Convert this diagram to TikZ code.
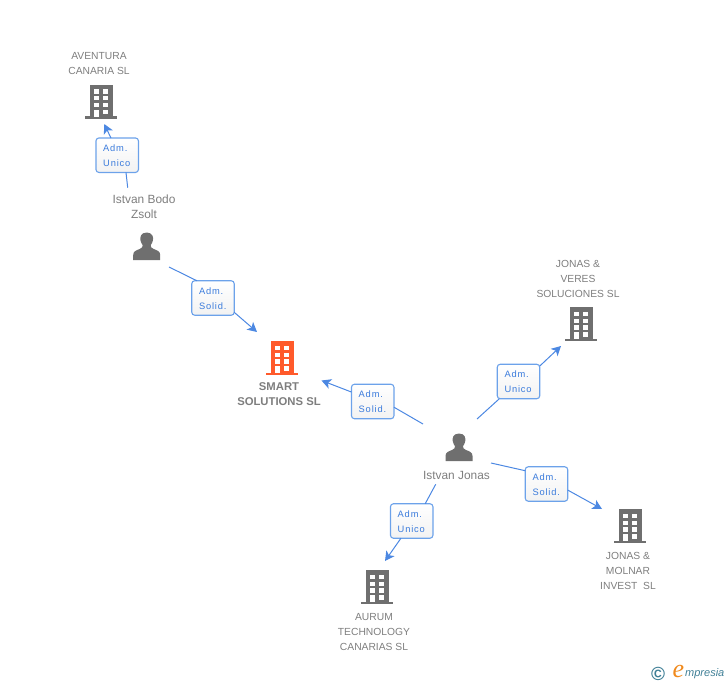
\documentclass[tikz,border=0pt]{standalone}
\usepackage{fontspec}
\setmainfont{Liberation Sans}
\newfontfamily\boxfont[LetterSpace=9]{Liberation Sans}
\newfontfamily\logofont{Liberation Serif}
\usetikzlibrary{arrows.meta,shadows}
\definecolor{icongrey}{HTML}{6F6F6F}
\definecolor{txtgrey}{HTML}{7E7E7E}
\definecolor{hiorange}{HTML}{FF5A2B}
\definecolor{linkblue}{HTML}{4C88E2}
\definecolor{boxedge}{HTML}{6CA2EA}
\definecolor{boxtext}{HTML}{3A7BDC}
\definecolor{logoteal}{HTML}{3F7F96}
\definecolor{logoorange}{HTML}{F08A1D}
\newcommand{\toplift}{\rule{0pt}{8pt}}
\tikzset{
  x=1pt,y=-1pt,
  caption/.style={text=txtgrey,font=\fontsize{10.3}{15}\selectfont,align=center,inner sep=0pt,outer sep=0pt},
  personcap/.style={text=txtgrey,font=\fontsize{11.9}{15}\selectfont,align=center,inner sep=0pt,outer sep=0pt},
  maincap/.style={text=txtgrey,font=\fontsize{11.3}{15}\selectfont\bfseries,align=center,inner sep=0pt,outer sep=0pt},
  rolebox/.style={draw=boxedge,line width=1.1pt,rounded corners=3pt,top color=white,bottom color=white!95!black,
    minimum width=42.5pt,minimum height=34.5pt,inner sep=0pt,outer sep=0pt,text=boxtext,text width=28pt,align=left,
    font=\boxfont\fontsize{9.3}{15}\selectfont},
  link/.style={draw=linkblue,line width=1pt},
  tipped/.style={link,-{Stealth[length=9.5pt,width=10pt,inset=2.5pt]}},
  bldg/.pic={
    \fill[pic actions] (-11,-17) rectangle (11.5,15);
    \fill[pic actions] (-16,14.5) rectangle (16,17);
    \fill[white] (-7,-12.5) rectangle (-2.2,-8);
    \fill[white] (2.2,-12.5) rectangle (7,-8);
    \fill[white] (-7,-5.5) rectangle (-2.2,-1.5);
    \fill[white] (2.2,-5.5) rectangle (7,-1.5);
    \fill[white] (-7,1.2) rectangle (-2.2,5.5);
    \fill[white] (2.2,1.2) rectangle (7,5.5);
    \fill[white] (-7,8) rectangle (-2.2,15);
    \fill[white] (2.2,8) rectangle (7,12.5);
  },
  person/.pic={
    \fill[pic actions] (0,-14.5) .. controls (-6,-14.5) and (-7,-9.5) .. (-6.2,-6.5)
      .. controls (-5.8,-4.5) and (-4.8,-3) .. (-4,-1.8)
      .. controls (-4,0) and (-4.5,1) .. (-7,2)
      .. controls (-11,3.5) and (-13.5,4.5) .. (-13.5,8)
      -- (-13.5,13) -- (13.5,13) -- (13.5,8)
      .. controls (13.5,4.5) and (11,3.5) .. (7,2)
      .. controls (4.5,1) and (4,0) .. (4,-1.8)
      .. controls (4.8,-3) and (5.8,-4.5) .. (6.2,-6.5)
      .. controls (7,-9.5) and (6,-14.5) .. (0,-14.5) -- cycle;
  }
}
\begin{document}
\begin{tikzpicture}
\useasboundingbox (0,0) rectangle (728,685);
% icons
\pic[fill=icongrey] at (101,101.5) {bldg};
\pic[fill=hiorange] at (282,358) {bldg};
\pic[fill=icongrey] at (581,324) {bldg};
\pic[fill=icongrey] at (630,526) {bldg};
\pic[fill=icongrey] at (377,587) {bldg};
\pic[fill=icongrey] at (146.7,247) {person};
\pic[fill=icongrey] at (459,448) {person};
% captions
\node[caption] (aventura) at (99,64) {AVENTURA\\CANARIA SL};
\node[personcap] (bodo) at (144,206.5) {Istvan Bodo\\Zsolt};
\node[maincap] (smart) at (279,394) {SMART\\SOLUTIONS SL};
\node[caption] (veres) at (578,278.5) {JONAS \&\\VERES\\SOLUCIONES SL};
\node[personcap] (jonas) at (456.5,475.5) {Istvan Jonas};
\node[caption] (molnar) at (628,570.5) {JONAS \&\\MOLNAR\\INVEST\ \ SL};
\node[caption] (aurum) at (374,631.5) {AURUM\\TECHNOLOGY\\CANARIAS SL};
% free ends
\coordinate (s1) at (127.7,187.7);
\coordinate (e1) at (104.3,124);
\coordinate (s2) at (169,267);
\coordinate (e2) at (257,332);
\coordinate (s3) at (423,424);
\coordinate (e3) at (321.5,380.5);
\coordinate (s4) at (477,419);
\coordinate (e4) at (561,346);
\coordinate (s5) at (491,463);
\coordinate (e5) at (602,509);
\coordinate (s6) at (435.7,484.3);
\coordinate (e6) at (385,561);
% role boxes
\node[rolebox] (r1) at (117.2,155.2) {\toplift Adm.\\Unico};
\node[rolebox] (r2) at (213,298) {\toplift Adm.\\Solid.};
\node[rolebox] (r3) at (372.7,401.5) {\toplift Adm.\\Solid.};
\node[rolebox] (r4) at (518.5,381.5) {\toplift Adm.\\Unico};
\node[rolebox] (r5) at (546.5,484) {\toplift Adm.\\Solid.};
\node[rolebox] (r6) at (411.7,521) {\toplift Adm.\\Unico};
% connectors
\draw[link] (s1) -- (r1.-63);
\draw[tipped] (r1.110) -- (e1);
\draw[link] (s2) -- (r2.133);
\draw[tipped] (r2.-34) -- (e2);
\draw[link] (s3) -- (r3.-15);
\draw[tipped] (r3.156) -- (e3);
\draw[link] (s4) -- (r4.-138);
\draw[tipped] (r4.36) -- (e4);
\draw[link] (s5) -- (r5.148);
\draw[tipped] (r5.-16) -- (e5);
\draw[link] (s6) -- (r6.52);
\draw[tipped] (r6.-122) -- (e6);
% logo
\node[text=logoteal,font=\fontsize{19}{19}\selectfont\bfseries,inner sep=0pt] (copyr) at (658,673.5) {©};
\node[text=logoorange,font=\logofont\itshape\fontsize{26}{26}\selectfont,inner sep=0pt] (logoe) at (678.5,671) {e};
\node[text=logoteal,font=\itshape\fontsize{11}{11}\selectfont,inner sep=0pt,anchor=west] (logom) at (685,674) {mpresia};
\end{tikzpicture}
\end{document}
